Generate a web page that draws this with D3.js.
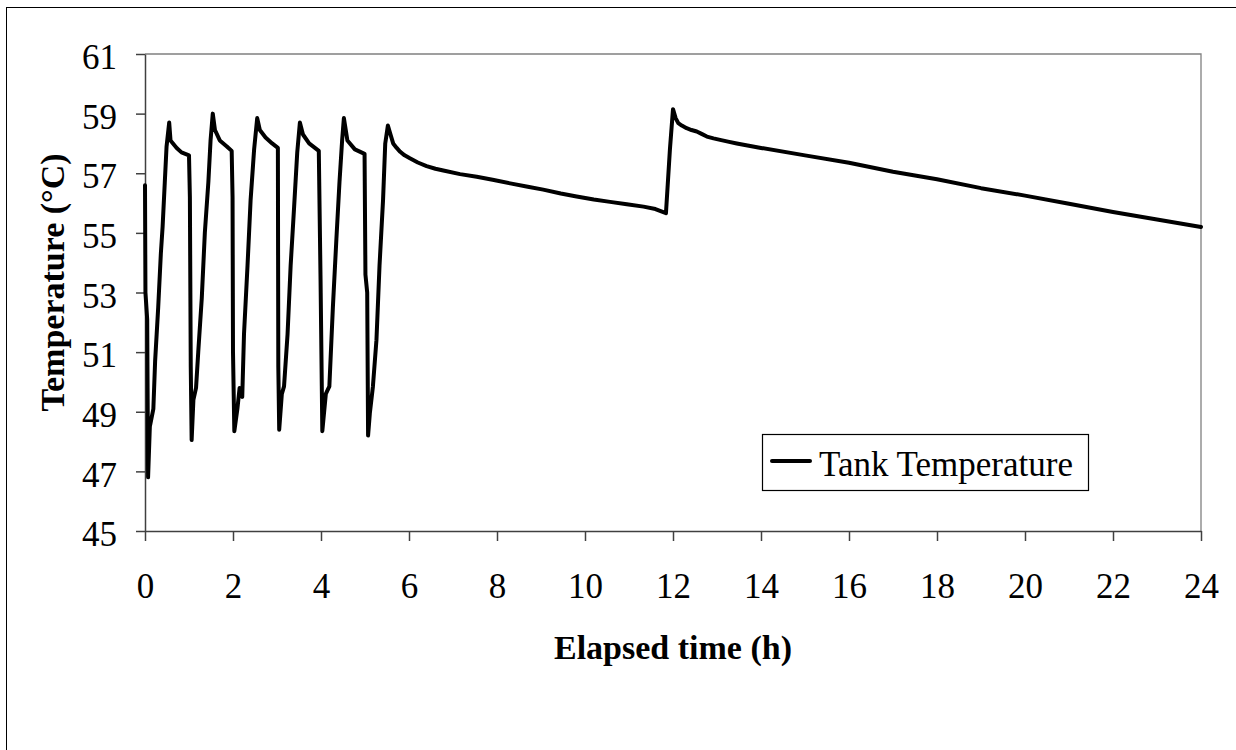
<!DOCTYPE html>
<html>
<head>
<meta charset="utf-8">
<script src="https://cdn.jsdelivr.net/npm/d3@7"></script>
<style>
  html, body { margin: 0; padding: 0; background: #fff; }
  svg { display: block; }
</style>
</head>
<body>
<svg id="chart" width="1236" height="750"></svg>
<script>
// ---- data ----
const hours = [
  0.00, 0.01, 0.05, 0.07, 0.11, 0.19, 0.23, 0.30, 0.36, 0.40, 0.45, 0.49, 0.55, 0.58, 0.72, 0.83, 1.00,
  1.02, 1.04, 1.06, 1.10, 1.16, 1.21, 1.29, 1.36, 1.44, 1.49, 1.54, 1.59, 1.70, 1.86, 1.97,
  1.99, 2.00, 2.03, 2.10, 2.15, 2.21, 2.25, 2.33, 2.40, 2.48, 2.55, 2.61, 2.74, 2.89, 3.02,
  3.03, 3.05, 3.11, 3.16, 3.24, 3.31, 3.39, 3.46, 3.52, 3.59, 3.73, 3.95,
  3.99, 4.03, 4.11, 4.19, 4.27, 4.35, 4.42, 4.48, 4.52, 4.60, 4.77, 4.99,
  5.01, 5.05, 5.07, 5.11, 5.18, 5.26, 5.33, 5.41, 5.46, 5.52, 5.58, 5.64, 5.72, 5.80, 5.90, 6.02,
  6.20, 6.40, 6.60, 6.78, 7.16, 7.54, 7.90, 8.30, 8.70, 9.05, 9.45, 9.81, 10.20, 10.57, 10.95, 11.33, 11.60, 11.84,
  11.93, 12.00, 12.06, 12.12, 12.20, 12.31, 12.42, 12.54, 12.65, 12.77, 12.92, 13.07, 13.25, 13.45,
  14.0, 15.0, 16.0, 17.0, 18.0, 19.0, 20.0, 21.0, 22.0, 23.0, 24.0
];
const tankTemp = [
  56.6, 53.0, 52.1, 46.8, 48.5, 49.1, 50.7, 52.5, 54.3, 55.2, 56.7, 57.9, 58.7, 58.1, 57.85, 57.7, 57.6,
  56.2, 50.5, 48.05, 49.4, 49.8, 51.0, 52.8, 55.0, 56.7, 58.1, 59.0, 58.45, 58.1, 57.9, 57.75,
  56.2, 51.0, 48.35, 49.1, 49.8, 49.5, 51.6, 53.9, 56.1, 57.8, 58.85, 58.45, 58.2, 58.0, 57.85,
  50.5, 48.4, 49.6, 49.85, 51.6, 53.9, 55.9, 57.7, 58.7, 58.3, 58.0, 57.75,
  53.4, 48.35, 49.6, 49.85, 52.5, 54.8, 56.7, 58.1, 58.85, 58.1, 57.8, 57.65,
  53.6, 53.0, 48.2, 48.95, 49.85, 51.4, 53.9, 56.1, 58.0, 58.6, 58.3, 58.0, 57.85, 57.72, 57.6, 57.5,
  57.36, 57.24, 57.15, 57.09, 56.97, 56.88, 56.78, 56.66, 56.55, 56.45, 56.32, 56.22, 56.12, 56.04, 55.96, 55.88, 55.8, 55.66,
  57.8, 59.15, 58.85, 58.68, 58.6, 58.51, 58.45, 58.4, 58.32, 58.23, 58.17, 58.12, 58.06, 58.0,
  57.85, 57.6, 57.35, 57.05, 56.8, 56.5, 56.25, 55.98, 55.7, 55.45, 55.2
];
const xTicks = [0, 2, 4, 6, 8, 10, 12, 14, 16, 18, 20, 22, 24];
const yTicks = [45, 47, 49, 51, 53, 55, 57, 59, 61];
const seriesName = "Tank Temperature";
const xTitle = "Elapsed time (h)";
const yTitle = "Temperature (°C)";

// ---- drawing ----
const FONT = "'Liberation Serif', 'Times New Roman', serif";
const svg = d3.select("#chart");
const pL = 145, pR = 1201, pT = 54, pB = 531;

// outer frame (extends beyond the right / bottom edges)
svg.append("rect").attr("x", 6.5).attr("y", 7.5).attr("width", 1260).attr("height", 780)
  .attr("fill", "none").attr("stroke", "#000").attr("stroke-width", 1);

const x = d3.scaleLinear().domain([0, 24]).range([pL, pR]);
const y = d3.scaleLinear().domain([45, 61]).range([pB, pT]);

// plot area top/right border
svg.append("path")
  .attr("d", `M${pL},${pT}H${pR}V${pB}`)
  .attr("fill", "none").attr("stroke", "#808080").attr("stroke-width", 1.3);

// axes
const xAxis = svg.append("g").attr("transform", `translate(0,${pB})`)
  .call(d3.axisBottom(x).tickValues(xTicks).tickSize(10).tickSizeOuter(0).tickPadding(32).tickFormat(d3.format("d")));
const yAxis = svg.append("g").attr("transform", `translate(${pL},0)`)
  .call(d3.axisLeft(y).tickValues(yTicks).tickSize(9).tickSizeOuter(0).tickPadding(19).tickFormat(d3.format("d")));
[xAxis, yAxis].forEach(g => {
  g.select(".domain").attr("stroke", "#404040").attr("stroke-width", 1.5);
  g.selectAll(".tick line").attr("stroke", "#404040").attr("stroke-width", 1.5);
  g.selectAll(".tick text").style("font-family", FONT).style("font-size", "35px").attr("fill", "#000");
});
yAxis.selectAll(".tick text").attr("dy", "0.42em");

// series line
const data = hours.map((h, i) => [h, tankTemp[i]]);
svg.append("path").datum(data)
  .attr("fill", "none").attr("stroke", "#000").attr("stroke-width", 4)
  .attr("stroke-linejoin", "round").attr("stroke-linecap", "round")
  .attr("d", d3.line().x(d => x(d[0])).y(d => y(d[1])));

// axis titles
svg.append("text").attr("x", (pL + pR) / 2).attr("y", 659)
  .attr("text-anchor", "middle").style("font-family", FONT).style("font-size", "34px")
  .style("font-weight", "bold").text(xTitle);
svg.append("text").attr("transform", `translate(64,${(pT + pB) / 2 - 10}) rotate(-90)`)
  .attr("text-anchor", "middle").style("font-family", FONT).style("font-size", "34px")
  .style("font-weight", "bold").text(yTitle);

// legend
const lg = svg.append("g");
lg.append("rect").attr("x", 762.5).attr("y", 434.5).attr("width", 326).attr("height", 56)
  .attr("fill", "#fff").attr("stroke", "#000").attr("stroke-width", 1.2);
lg.append("line").attr("x1", 772).attr("x2", 810).attr("y1", 461).attr("y2", 461)
  .attr("stroke", "#000").attr("stroke-width", 4).attr("stroke-linecap", "round");
lg.append("text").attr("x", 819).attr("y", 476).style("font-family", FONT).style("font-size", "35px")
  .text(seriesName);
</script>
</body>
</html>
